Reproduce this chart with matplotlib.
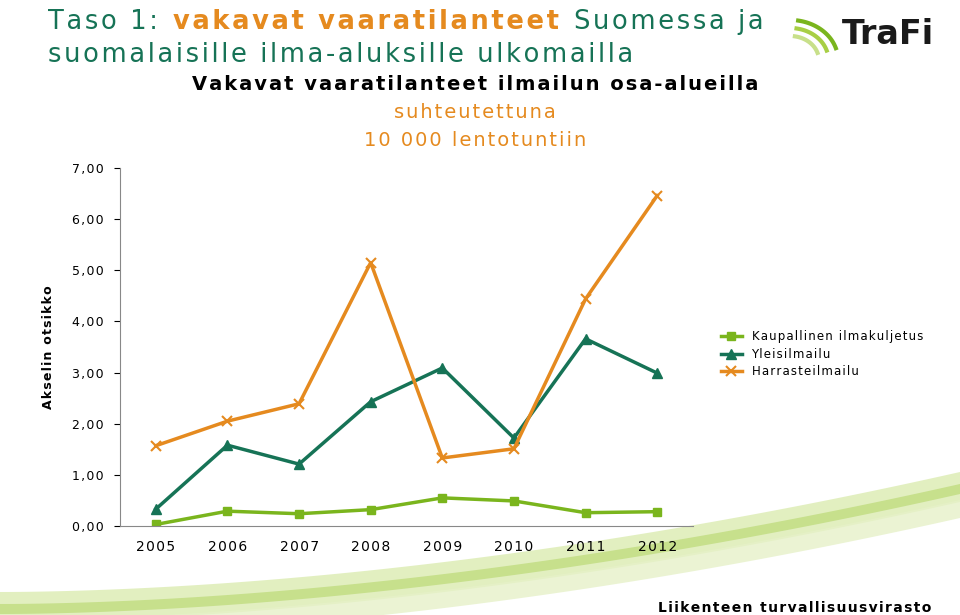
import matplotlib.pyplot as plt
import numpy as np

# ----------------------------
# Data
# ----------------------------
years = ["2005", "2006", "2007", "2008", "2009", "2010", "2011", "2012"]
kaupallinen = [0.03, 0.29, 0.24, 0.32, 0.55, 0.49, 0.26, 0.28]
yleis = [0.33, 1.58, 1.21, 2.43, 3.09, 1.72, 3.66, 2.99]
harras = [1.57, 2.05, 2.39, 5.15, 1.33, 1.51, 4.44, 6.46]
yticks = [0, 1, 2, 3, 4, 5, 6, 7]

W, H = 960, 615
fig = plt.figure(figsize=(W / 100, H / 100), dpi=100)
plt.rcParams["font.family"] = "DejaVu Sans"


def spaced(s, n=1):
    return ("\u200a" * n).join(s)


# decorative swoosh at bottom
bg = fig.add_axes([0, 0, 1, 1], zorder=0)
bg.set_xlim(0, W)
bg.set_ylim(H, 0)
bg.axis("off")
xs = np.linspace(0, W, 200)
t = xs / W
for off, thick, col, a in [(0, 30, "#d6e9a6", 0.7), (12, 10, "#b5d66a", 0.6), (28, 18, "#e6f1c8", 0.8)]:
    top = 612 - 120 * t ** 1.8 + off - 20
    bg.fill_between(xs, top, top + thick, color=col, alpha=a, lw=0)
# logo arcs
for i, c in enumerate(["#7ab51d", "#a8cf45", "#c8e08a"]):
    th = np.linspace(0.3, 1.4, 50)
    bg.plot(790 + (40 - i * 8) * np.cos(th) * 1.2, 60 - (40 - i * 8) * np.sin(th),
            color=c, lw=3)

# ----------------------------
# Chart
# ----------------------------
ax = fig.add_axes([120 / W, 1 - 526 / H, 573 / W, (526 - 168) / H], zorder=2)
ax.patch.set_alpha(0)
x = np.arange(len(years))
ax.plot(x, kaupallinen, color="#7ab51d", marker="s", ms=6, lw=2.5, label=spaced("Kaupallinen ilmakuljetus"))
ax.plot(x, yleis, color="#167356", marker="^", ms=7, lw=2.5, label=spaced("Yleisilmailu"))
ax.plot(x, harras, color="#e58a1f", marker="x", ms=7, mew=1.5, lw=2.5, label=spaced("Harrasteilmailu"))
ax.set_xlim(-0.5, len(years) - 0.5)
ax.set_ylim(0, 7)
ax.set_xticks(x)
ax.set_xticklabels([spaced(y) for y in years], fontsize=10)
ax.set_yticks(yticks)
ax.set_yticklabels([spaced(f"{v},00") for v in yticks], fontsize=9)
ax.tick_params(axis="x", length=0, pad=10)
ax.tick_params(axis="y", length=4, direction="out", pad=8)
for s in ["top", "right"]:
    ax.spines[s].set_visible(False)
ax.spines["left"].set_color("#888888")
ax.spines["bottom"].set_color("#888888")
ax.set_ylabel(spaced("Akselin otsikko"), fontsize=9, fontweight="bold", labelpad=12)
ax.legend(loc="center left", bbox_to_anchor=(1.03, 0.48), frameon=False, fontsize=8.5,
          handlelength=1.8, labelspacing=0.4)

# ----------------------------
# Texts
# ----------------------------
renderer = fig.canvas.get_renderer()
xpos = 48 / W
for txt, col, wt in [("Taso 1: ", "#167356", "normal"),
                     ("vakavat vaaratilanteet ", "#e58a1f", "bold"),
                     ("Suomessa ja", "#167356", "normal")]:
    tt = fig.text(xpos, 1 - 22 / H, spaced(txt), color=col, fontsize=18.5, fontweight=wt, va="center")
    xpos += tt.get_window_extent(renderer).width / W + 4 / W
fig.text(48 / W, 1 - 55 / H, spaced("suomalaisille ilma-aluksille ulkomailla"), color="#167356",
         fontsize=18.5, va="center")
fig.text(475 / W, 1 - 85 / H, spaced("Vakavat vaaratilanteet ilmailun osa-alueilla"), fontsize=14,
         fontweight="bold", ha="center", va="center")
fig.text(475 / W, 1 - 113 / H, spaced("suhteutettuna"), color="#e58a1f", fontsize=14,
         ha="center", va="center")
fig.text(475 / W, 1 - 141 / H, spaced("10 000 lentotuntiin"), color="#e58a1f", fontsize=14,
         ha="center", va="center")
fig.text(888 / W, 1 - 35 / H, "TraFi", color="#1a1a1a", fontsize=24, fontweight="bold",
         ha="center", va="center")
fig.text(795 / W, 1 - 608 / H, spaced("Liikenteen turvallisuusvirasto"), fontsize=10,
         fontweight="bold", ha="center", va="center")

plt.savefig("out.png", dpi=100)
